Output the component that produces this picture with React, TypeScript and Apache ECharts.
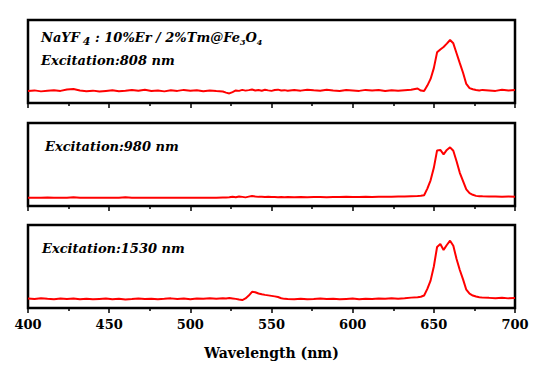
import { useEffect, useRef } from 'react';
import * as echarts from 'echarts';

const wavelengths = [
  400, 404, 408, 412, 416, 420, 424, 428, 432, 436, 440, 444, 448, 452, 456, 460, 464, 468, 472, 476, 480, 484, 488, 492, 496, 500, 504, 508, 512, 516, 520,
  522, 524, 526, 528, 530, 532, 534, 536, 538, 540, 542, 544, 546, 548, 550, 552, 554, 556, 558, 560,
  564, 568, 572, 576, 580, 584, 588, 592, 596, 600, 604, 608, 612, 616, 620, 624, 628, 632, 636, 640,
  642, 644, 646, 648, 650, 652, 654, 656, 658, 660, 662, 664, 666, 668, 670, 672, 674, 676, 678, 680,
  684, 688, 692, 696, 700,
];

const ex808 = [
  14.5, 15.2, 14.0, 14.8, 15.5, 14.6, 16.3, 16.8, 15.0, 14.3, 14.9, 13.8, 14.6, 15.4, 14.2, 14.8, 15.6, 14.7, 15.9, 14.5, 15.1, 14.0, 15.3, 14.6, 15.8, 14.9, 15.4, 14.2, 15.0, 14.4, 13.9,
  12.5, 11.5, 13.2, 15.1, 14.6, 15.8, 14.9, 15.5, 16.2, 15.0, 15.6, 14.7, 15.9, 15.2, 14.6, 15.7, 16.1, 15.0, 15.5, 14.8,
  15.6, 14.9, 16.0, 15.3, 14.8, 15.9, 15.1, 14.5, 15.7, 15.2, 14.6, 15.8, 15.0, 15.6, 14.4, 15.3, 14.7, 15.5, 16.0, 17.5,
  15.0, 14.5, 21.0, 29.0, 42.0, 61.0, 64.5, 67.5, 71.5, 75.9, 71.9, 60.0, 48.0, 36.5, 23.0, 18.0, 16.5, 15.7, 15.0, 15.8,
  15.2, 14.6, 15.9, 15.0, 15.6,
];

const ex980 = [
  10.0, 10.0, 10.0, 10.3, 10.0, 10.0, 10.0, 10.6, 10.0, 10.0, 10.0, 10.0, 10.0, 10.0, 10.0, 10.4, 10.0, 10.0, 10.0, 10.0, 10.0, 10.0, 10.0, 10.0, 10.0, 10.0, 10.0, 10.0, 10.0, 10.0, 10.2,
  10.2, 10.5, 11.2, 10.6, 11.5, 11.0, 10.4, 11.3, 12.0, 11.4, 11.0, 11.2, 10.8, 11.0, 10.7, 10.9, 10.6, 10.8, 10.5, 10.7,
  10.6, 10.8, 10.5, 10.7, 10.9, 10.6, 10.8, 10.7, 11.0, 10.8, 10.9, 11.1, 10.8, 11.0, 11.2, 11.0, 11.3, 11.4, 11.8, 12.0,
  12.3, 13.0, 21.0, 31.0, 46.0, 67.0, 67.5, 62.3, 67.5, 70.7, 66.5, 54.0, 40.0, 30.0, 20.0, 15.5, 13.5, 12.2, 11.8, 11.6,
  11.5, 11.4, 11.2, 11.5, 11.2,
];

const ex1530 = [
  11.5, 10.8, 11.7, 11.0, 10.6, 11.3, 10.9, 11.4, 10.5, 11.0, 10.4, 10.9, 11.3, 10.6, 11.1, 10.3, 10.8, 11.4, 10.7, 11.2, 10.5, 11.0, 11.6, 10.9, 11.3, 10.6, 11.5, 11.0, 11.7, 11.2, 11.8,
  11.4, 12.0, 11.5, 11.0, 10.2, 9.6, 11.5, 15.0, 19.5, 19.0, 17.5, 16.5, 15.8, 15.2, 14.6, 14.0, 13.2, 11.8, 11.0, 10.8,
  10.6, 11.2, 10.5, 10.9, 11.4, 10.7, 11.0, 10.4, 10.9, 11.3, 10.6, 11.2, 10.8, 11.5, 11.0, 11.6, 11.2, 11.8, 12.5, 13.0,
  13.5, 15.0, 23.0, 33.0, 50.0, 73.5, 77.0, 70.0, 75.9, 81.1, 75.0, 59.0, 45.8, 34.5, 22.0, 17.2, 15.0, 13.8, 13.0, 12.5,
  12.2, 11.8, 12.3, 11.6, 11.9,
];

const panelSeries = [ex808, ex980, ex1530];
const panelLabels = ['Excitation:808 nm', 'Excitation:980 nm', 'Excitation:1530 nm'];
const xAxisName = 'Wavelength (nm)';

export default function App() {
  const ref = useRef<HTMLDivElement>(null);
  useEffect(() => {
    const chart = echarts.init(ref.current!, null, { renderer: 'svg' });
    const tops = [20, 123, 225];
    const labelPos = [
      [41, 60],
      [45, 146],
      [42, 248],
    ];
    const serif = 'DejaVu Serif';
    const lblSize = 13;
    chart.setOption({
      animation: false,
      backgroundColor: '#ffffff',
      textStyle: { fontFamily: serif },
      grid: tops.map((t) => ({
        left: 28,
        width: 487,
        top: t,
        height: 83,
        show: true,
        borderColor: '#000',
        borderWidth: 2.5,
        backgroundColor: 'transparent',
        outerBoundsMode: 'none',
      })),
      xAxis: tops.map((_, i) => ({
        type: 'value',
        gridIndex: i,
        min: 400,
        max: 700,
        interval: 50,
        axisLine: { show: false },
        axisTick: { show: true, inside: false, length: 5, lineStyle: { color: '#000', width: 1.5 } },
        minorTick: { show: true, splitNumber: 2, length: 3, lineStyle: { color: '#000', width: 1.5 } },
        splitLine: { show: false },
        minorSplitLine: { show: false },
        axisLabel: {
          show: i === 2,
          color: '#000',
          fontFamily: serif,
          fontWeight: 'bold',
          fontSize: 13,
          margin: 10,
        },
        name: i === 2 ? xAxisName : '',
        nameLocation: 'middle',
        nameGap: 38,
        nameTextStyle: { color: '#000', fontFamily: serif, fontWeight: 'bold', fontSize: 14 },
      })),
      yAxis: tops.map((_, i) => ({
        type: 'value',
        gridIndex: i,
        min: 0,
        max: 100,
        show: false,
      })),
      series: panelSeries.map((vals, i) => ({
        type: 'line',
        xAxisIndex: i,
        yAxisIndex: i,
        showSymbol: false,
        symbol: 'none',
        lineStyle: { color: '#ff0000', width: 2 },
        itemStyle: { color: '#ff0000' },
        data: wavelengths.map((w, k) => [w, vals[k]]),
      })),
      graphic: [
        {
          type: 'text',
          x: 41,
          y: 37,
          style: {
            text: '{a|NaYF}{b|4}{a| : 10%Er / 2%Tm@Fe}{s|3}{a|O}{s|4}',
            verticalAlign: 'middle',
            rich: {
              a: { fontFamily: serif, fontStyle: 'italic', fontWeight: 'bold', fontSize: lblSize, fill: '#000', lineHeight: 18, verticalAlign: 'middle' },
              b: { fontFamily: serif, fontStyle: 'italic', fontWeight: 'bold', fontSize: 11, fill: '#000', padding: [8, 0, 0, 3], verticalAlign: 'middle' },
              s: { fontFamily: serif, fontStyle: 'italic', fontWeight: 'bold', fontSize: 8, fill: '#000', padding: [9, 0, 0, 0], verticalAlign: 'middle' },
            },
          },
        },
        ...panelLabels.map((txt, i) => ({
          type: 'text',
          x: labelPos[i][0],
          y: labelPos[i][1],
          style: {
            text: txt,
            fontFamily: serif,
            fontStyle: 'italic',
            fontWeight: 'bold',
            fontSize: lblSize,
            fill: '#000',
            verticalAlign: 'middle',
          },
        })),
      ],
    });
    return () => chart.dispose();
  }, []);
  return (
    <div
      ref={ref}
      style={{ position: 'fixed', left: 0, top: 0, width: 551, height: 371, background: '#fff' }}
    />
  );
}
